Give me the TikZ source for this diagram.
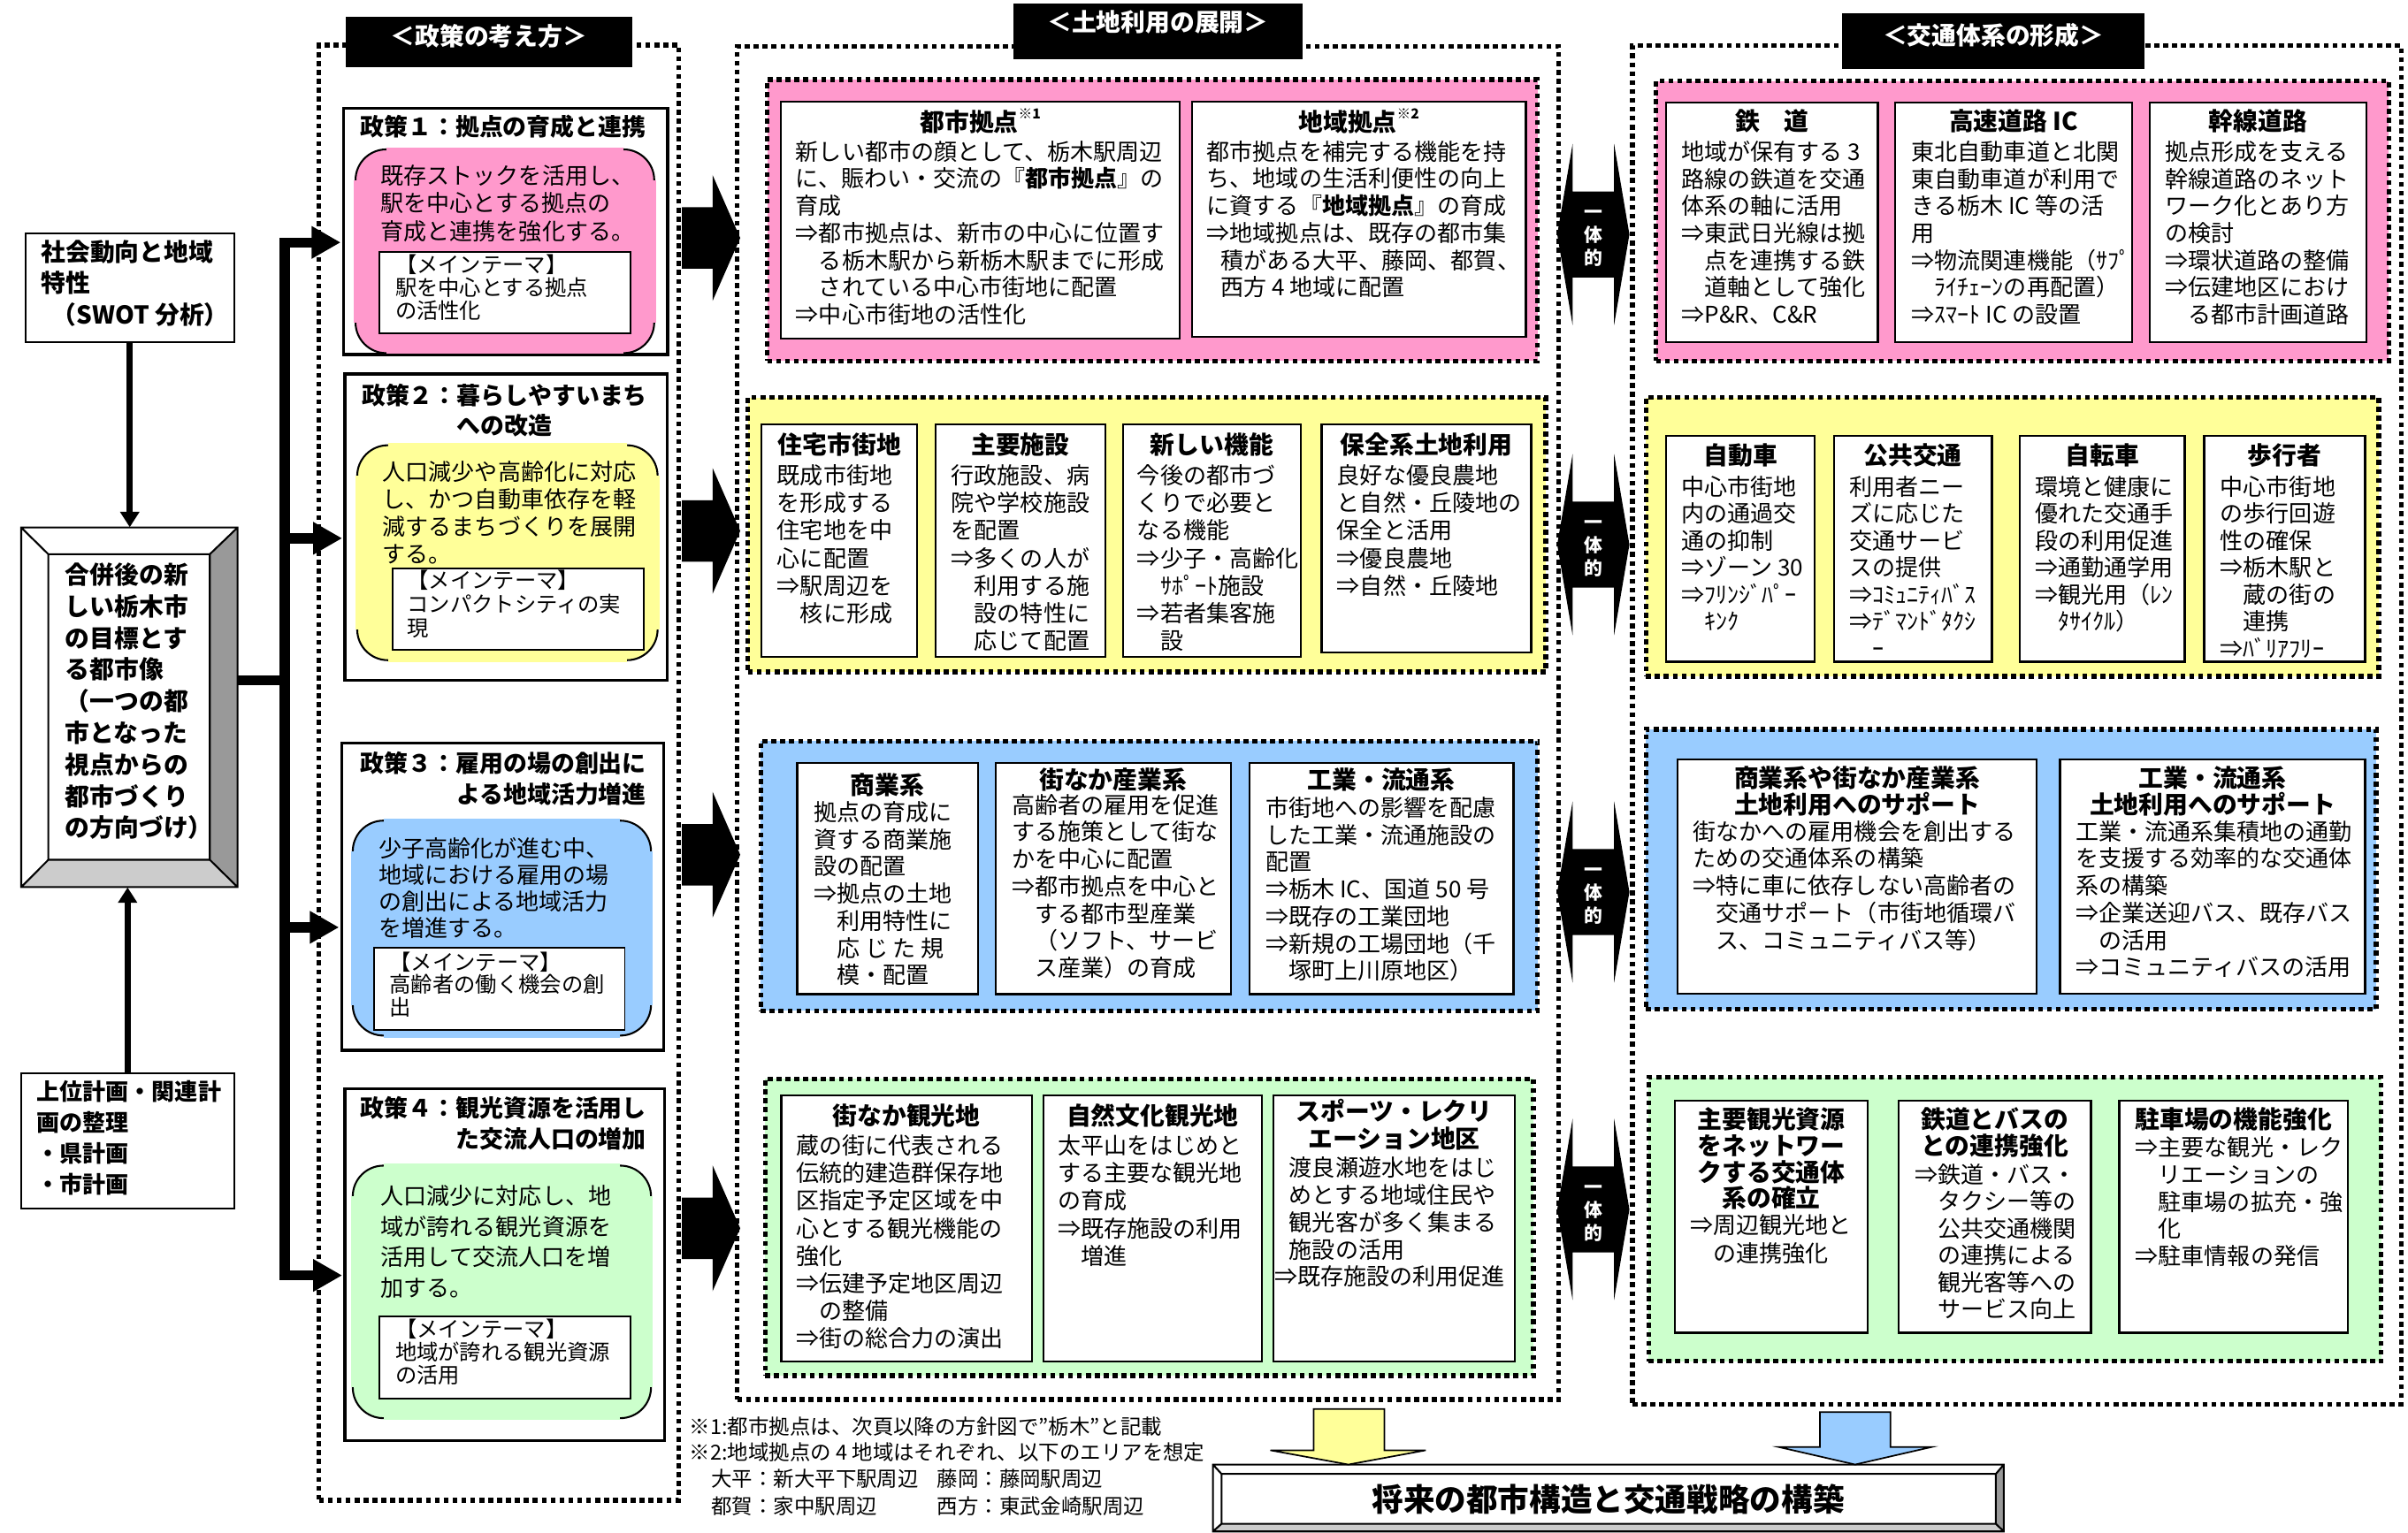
\documentclass[tikz,border=0pt]{standalone}
\usepackage{fontspec}
\setmainfont{Noto Sans CJK JP}
\usetikzlibrary{fit,arrows.meta}
\definecolor{cpink}{HTML}{FF99CC}
\definecolor{cyel}{HTML}{FFFF99}
\definecolor{cblue}{HTML}{99CCFF}
\definecolor{cgreen}{HTML}{CCFFCC}
\definecolor{cgray}{HTML}{999999}
\definecolor{clgray}{HTML}{CCCCCC}
\newcommand\sr{\rule{0pt}{.88em}}
\newcommand\fsz[2]{\fontsize{#1}{#2}\selectfont}
\tikzset{
 dotframe/.style={draw=black, line width=3pt, dash pattern=on 3.2pt off 2.6pt, inner sep=0pt},
 carea/.style={dotframe, fill=#1},
 wbox/.style={draw=black, fill=white, line width=1.3pt, inner sep=0pt},
 tbox/.style={wbox, line width=1.1pt},
 ttl/.style={anchor=north, inner sep=0pt, text=white, font=\bfseries\fsz{16}{18}},
 hd/.style={anchor=north, inner sep=0pt, align=center, font=\bfseries\fsz{16}{17.3}},
 bd/.style={anchor=north west, inner sep=0pt, align=left, font=\fsz{15}{17.7}},
 ptl/.style={anchor=north west, inner sep=0pt, align=left, font=\bfseries\fsz{15.5}{20}},
 lbold/.style={anchor=north west, inner sep=0pt, align=left, font=\bfseries\fsz{16}{20.3}},
 fnote/.style={bd, font=\fsz{13.5}{17.6}},
 thinarr/.style={line width=4pt, -{Triangle[width=12pt,length=10pt]}},
 trunk/.style={line width=6.5pt},
 branch/.style={line width=6.5pt, -{Triangle[width=20pt,length=19pt]}, shorten >=1.5pt},
}
% rounded coloured panel with only the corner arcs outlined
\newcommand\rrect[6]{%
  \node[fit={(#2,#3)(#4,#5)}, inner sep=0pt, fill=#1, draw=black, line width=1.2pt, rounded corners=20pt] (#6) {};
  \draw[#1, line width=2.6pt] (#2+20,#3) -- (#4-20,#3) (#2+20,#5) -- (#4-20,#5) (#2,#3+20) -- (#2,#5-20) (#4,#3+20) -- (#4,#5-20);
}
% bevelled box
\newcommand\bevel[9]{%
  \node[fit={(#1,#2)(#3,#4)}, inner sep=0pt, fill=white] (#9) {};
  \fill[cgray] (#3,#2) -- (#3,#4) -- (#7,#8) -- (#7,#6) -- cycle;
  \fill[clgray] (#1,#4) -- (#3,#4) -- (#7,#8) -- (#5,#8) -- cycle;
  \draw[line width=1.2pt] (#1,#2) rectangle (#3,#4) (#5,#6) rectangle (#7,#8)
     (#1,#2) -- (#5,#6) (#3,#2) -- (#7,#6) (#1,#4) -- (#5,#8) (#3,#4) -- (#7,#8);
}
\newcommand\rarr[1]{\fill (444,#1-20) -- (464,#1-20) -- (464,#1-41) -- (482,#1) -- (464,#1+41) -- (464,#1+20) -- (444,#1+20) -- cycle;}
\newcommand\dblarr[2]{%
  \fill (1014,#1) -- (1024,#1-59) -- (1024,#1-28) -- (1051,#1-28) -- (1051,#1-59) -- (1061,#1) -- (1051,#1+59) -- (1051,#1+28) -- (1024,#1+28) -- (1024,#1+59) -- cycle;
  \node[text=white, font=\bfseries\fsz{12}{15}, align=center, inner sep=0pt] (#2) at (1037.5,#1) {\sr 一\\体\\的};
}
\begin{document}
\begin{tikzpicture}[x=1pt,y=-1pt]
\fill[white] (0,0) rectangle (1568,998);
\useasboundingbox (0,0) rectangle (1568,998);

% ---------- frames ----------
\node[dotframe, fit={(207.7,29.4)(442,977.2)}] (fpol) {};
\node[dotframe, fit={(480,30.3)(1015,911.5)}] (fland) {};
\node[dotframe, fit={(1063,29.8)(1563.5,914.6)}] (ftra) {};

\node[fill=black, inner sep=0pt, fit={(224.9,11)(411.9,44)}] (tpol) {};
\node[ttl] (tpolt) at (318.4,15.5) {\sr ＜政策の考え方＞};
\node[fill=black, inner sep=0pt, fit={(660,2.3)(848,38.4)}] (tland) {};
\node[ttl] (tlandt) at (754,6.2) {\sr ＜土地利用の展開＞};
\node[fill=black, inner sep=0pt, fit={(1199.7,8.6)(1396.5,45.1)}] (ttra) {};
\node[ttl] (ttrat) at (1298,14.8) {\sr ＜交通体系の形成＞};

% ---------- left column ----------
\node[wbox, fit={(16.6,152.2)(152.4,222.7)}] (sa) {};
\node[lbold] (sat) at (26.6,156) {\sr 社会動向と地域\\特性\\\hspace*{7pt}（SWOT 分析）};
\bevel{13.8}{343.6}{154.7}{577.8}{31.5}{361}{136.6}{560}{bev}
\node[lbold, font=\bfseries\fsz{16}{20.6}] (bevt) at (42.4,366.1) {\sr 合併後の新\\しい栃木市\\の目標とす\\る都市像\\（一つの都\\市となった\\視点からの\\都市づくり\\の方向づけ）};
\node[wbox, fit={(13.8,699)(152.4,787.3)}] (sb) {};
\node[lbold, font=\bfseries\fsz{15}{20.1}] (sbt) at (23.8,703.4) {\sr 上位計画・関連計\\画の整理\\・県計画\\・市計画};
\draw[thinarr] (sa.south) -- (sa.south |- bev.north);
\draw[thinarr] (sb.north) -- (sb.north |- bev.south);

% ---------- policies ----------
\node[wbox, fit={(224,70.8)(434.5,230.6)}] (pol1) {};
\rrect{cpink}{231.5}{97.3}{426}{230}{pol1r}
\node[tbox, fit={(247,163.9)(410.5,217.3)}] (pol1m) {};
\draw[line width=1.3pt] (pol1.north west) rectangle (pol1.south east);
\node[ptl] (pol1h) at (234.4,74.8) {\sr 政策１：拠点の育成と連携};
\node[bd, font=\fsz{15}{18}] (pol1x) at (247.8,106.7) {\sr 既存ストックを活用し、\\駅を中心とする拠点の\\育成と連携を強化する。};
\node[bd, font=\fsz{14}{15}] (pol1mt) at (257.2,164.9) {\sr 【メインテーマ】\\駅を中心とする拠点\\の活性化};

\node[wbox, fit={(225,243.8)(434,442.8)}] (pol2) {};
\rrect{cyel}{232.6}{290}{428.2}{430}{pol2r}
\node[tbox, fit={(255.8,370)(419,423)}] (pol2m) {};
\draw[line width=1.3pt] (pol2.north west) rectangle (pol2.south east);
\node[ptl, anchor=north, align=center, font=\bfseries\fsz{15.5}{19.9}] (pol2h) at (328.5,249.5) {\sr 政策２：暮らしやすいまち\\への改造};
\node[bd, font=\fsz{15}{18}] (pol2x) at (249,299.4) {\sr 人口減少や高齢化に対応\\し、かつ自動車依存を軽\\減するまちづくりを展開\\する。};
\node[bd, font=\fsz{14}{15.5}] (pol2mt) at (265,370.6) {\sr 【メインテーマ】\\コンパクトシティの実\\現};

\node[wbox, fit={(222.9,484.3)(431.7,683.7)}] (pol3) {};
\rrect{cblue}{229.7}{534.5}{423.9}{674.5}{pol3r}
\node[tbox, fit={(243.5,617.5)(406.8,670.6)}] (pol3m) {};
\draw[line width=1.3pt] (pol3.north west) rectangle (pol3.south east);
\node[ptl, anchor=north east, align=right, font=\bfseries\fsz{15.5}{20.2}] (pol3h) at (421,488.9) {\sr 政策３：雇用の場の創出に\\よる地域活力増進};
\node[bd, font=\fsz{15}{17.3}] (pol3x) at (246.3,545) {\sr 少子高齢化が進む中、\\地域における雇用の場\\の創出による地域活力\\を増進する。};
\node[bd, font=\fsz{14}{14.9}] (pol3mt) at (253.5,619.2) {\sr 【メインテーマ】\\高齢者の働く機会の創\\出};

\node[wbox, fit={(225,709.3)(432.5,937.9)}] (pol4) {};
\rrect{cgreen}{229.7}{759.2}{423.9}{923.7}{pol4r}
\node[tbox, fit={(247,857.6)(410.5,911)}] (pol4m) {};
\draw[line width=1.3pt] (pol4.north west) rectangle (pol4.south east);
\node[ptl, anchor=north east, align=right, font=\bfseries\fsz{15.5}{20.3}] (pol4h) at (421,713.6) {\sr 政策４：観光資源を活用し\\た交流人口の増加};
\node[bd, font=\fsz{15}{19.9}] (pol4x) at (247.8,771.2) {\sr 人口減少に対応し、地\\域が誇れる観光資源を\\活用して交流人口を増\\加する。};
\node[bd, font=\fsz{14}{14.8}] (pol4mt) at (257.2,858.6) {\sr 【メインテーマ】\\地域が誇れる観光資源\\の活用};

% trunk and branches
\coordinate (j1) at (185.4,157.9);
\coordinate (j2) at (185.4,350.6);
\coordinate (j3) at (185.4,604);
\coordinate (j4) at (185.4,830.7);
\draw[trunk, line cap=rect] (j1) -- (j4);
\draw[trunk] (bev.east |- 0,443) -- (185.4,443);
\draw[branch] (j1) -- (j1 -| pol1.west);
\draw[branch] (j2) -- (j2 -| pol2.west);
\draw[branch] (j3) -- (j3 -| pol3.west);
\draw[branch] (j4) -- (j4 -| pol4.west);

% ---------- land use ----------
\node[carea=cpink, fit={(499.6,51.8)(1001.3,235.1)}] (lpk) {};
\node[carea=cyel, fit={(487,259)(1006.6,437.6)}] (lyl) {};
\node[carea=cblue, fit={(495.4,482.7)(1001.3,658.4)}] (lbl) {};
\node[carea=cgreen, fit={(498.3,702.7)(998.5,896)}] (lgr) {};

\node[wbox, fit={(508.6,66.2)(768.2,220.4)}] (l11) {};
\node[hd] (l11h) at (l11.north |- 0,70.5) {\sr 都市拠点\raisebox{.5em}{\fsz{9}{9}※1}};
\node[bd] (l11t) at (518,90.9) {\sr 新しい都市の顔として、栃木駅周辺\\に、賑わい・交流の『{\bfseries 都市拠点}』の\\育成\\⇒都市拠点は、新市の中心に位置す\\　る栃木駅から新栃木駅までに形成\\　されている中心市街地に配置\\⇒中心市街地の活性化};
\node[wbox, fit={(776.2,66.2)(993.6,219.2)}] (l12) {};
\node[hd] (l12h) at (l12.north |- 0,70.5) {\sr 地域拠点\raisebox{.5em}{\fsz{9}{9}※2}};
\node[bd] (l12t) at (785.7,90.9) {\sr 都市拠点を補完する機能を持\\ち、地域の生活利便性の向上\\に資する『{\bfseries 地域拠点}』の育成\\⇒地域拠点は、既存の都市集\\\hspace*{.6em}積がある大平、藤岡、都賀、\\\hspace*{.6em}西方 4 地域に配置};

\node[wbox, fit={(496,276.5)(597.3,428)}] (l21) {};
\node[hd] (l21h) at (l21.north |- 0,281.6) {\sr 住宅市街地};
\node[bd, font=\fsz{15}{18}] (l21t) at (505.9,301.8) {\sr 既成市街地\\を形成する\\住宅地を中\\心に配置\\⇒駅周辺を\\　核に形成};
\node[wbox, fit={(609.1,276.5)(719.7,428)}] (l22) {};
\node[hd] (l22h) at (l22.north |- 0,281.6) {\sr 主要施設};
\node[bd, font=\fsz{15}{18}] (l22t) at (619.3,301.8) {\sr 行政施設、病\\院や学校施設\\を配置\\⇒多くの人が\\　利用する施\\　設の特性に\\　応じて配置};
\node[wbox, fit={(731.3,276.5)(847,428)}] (l23) {};
\node[hd] (l23h) at (l23.north |- 0,281.6) {\sr 新しい機能};
\node[bd, font=\fsz{15}{18}] (l23t) at (740.3,301.8) {\sr 今後の都市づ\\くりで必要と\\なる機能\\⇒少子・高齢化\\　ｻﾎﾟｰﾄ施設\\⇒若者集客施\\　設};
\node[wbox, fit={(860.6,276.5)(997,425)}] (l24) {};
\node[hd] (l24h) at (l24.north |- 0,281.6) {\sr 保全系土地利用};
\node[bd, font=\fsz{15}{18}] (l24t) at (870.4,301.8) {\sr 良好な優良農地\\と自然・丘陵地の\\保全と活用\\⇒優良農地\\⇒自然・丘陵地};

\node[wbox, fit={(519.1,497)(636.7,647.5)}] (l31) {};
\node[hd] (l31h) at (l31.north |- 0,503) {\sr 商業系};
\node[bd] (l31t) at (529.6,521.2) {\sr 拠点の育成に\\資する商業施\\設の配置\\⇒拠点の土地\\　利用特性に\\　応 じ た 規\\　模・配置};
\node[wbox, fit={(648.2,497)(801.4,647.5)}] (l32) {};
\node[hd] (l32h) at (l32.north |- 0,499.8) {\sr 街なか産業系};
\node[bd] (l32t) at (658.6,516.4) {\sr 高齢者の雇用を促進\\する施策として街な\\かを中心に配置\\⇒都市拠点を中心と\\　する都市型産業\\　（ソフト、サービ\\　ス産業）の育成};
\node[wbox, fit={(813.6,497)(985.5,647.5)}] (l33) {};
\node[hd] (l33h) at (l33.north |- 0,499.8) {\sr 工業・流通系};
\node[bd] (l33t) at (824,518.3) {\sr 市街地への影響を配慮\\した工業・流通施設の\\配置\\⇒栃木 IC、国道 50 号\\⇒既存の工業団地\\⇒新規の工場団地（千\\　塚町上川原地区）};

\node[wbox, fit={(508.8,713.6)(671.8,886.7)}] (l41) {};
\node[hd] (l41h) at (l41.north |- 0,718.3) {\sr 街なか観光地};
\node[bd, font=\fsz{15}{17.9}] (l41t) at (518.2,738.5) {\sr 蔵の街に代表される\\伝統的建造群保存地\\区指定予定区域を中\\心とする観光機能の\\強化\\⇒伝建予定地区周辺\\　の整備\\⇒街の総合力の演出};
\node[wbox, fit={(679.3,713.6)(821.7,886.7)}] (l42) {};
\node[hd] (l42h) at (l42.north |- 0,718.3) {\sr 自然文化観光地};
\node[bd, font=\fsz{15}{17.9}] (l42t) at (688.6,738.5) {\sr 太平山をはじめと\\する主要な観光地\\の育成\\⇒既存施設の利用\\　増進};
\node[wbox, fit={(829.2,713.6)(986.5,886.7)}] (l43) {};
\node[hd, font=\bfseries\fsz{16}{17.5}] (l43h) at (l43.north |- 0,715.8) {\sr スポーツ・レクリ\\エーション地区};
\node[bd] (l43t) at (839.3,753) {\sr 渡良瀬遊水地をはじ\\めとする地域住民や\\観光客が多く集まる\\施設の活用\\\hspace*{-9.5pt}⇒既存施設の利用促進};

% ---------- transport ----------
\node[carea=cpink, fit={(1078.4,52.8)(1555.5,235.1)}] (tpk) {};
\node[carea=cyel, fit={(1071.8,259)(1549,440.5)}] (tyl) {};
\node[carea=cblue, fit={(1071.8,475)(1547.3,657.4)}] (tbl) {};
\node[carea=cgreen, fit={(1073.5,701.7)(1550.6,886.7)}] (tgr) {};

\node[wbox, fit={(1085,66.6)(1222.7,222.7)}] (t11) {};
\node[hd] (t11h) at (t11.north |- 0,70.5) {\sr 鉄　道};
\node[bd, font=\fsz{15}{17.6}] (t11t) at (1094.8,91.3) {\sr 地域が保有する 3\\路線の鉄道を交通\\体系の軸に活用\\⇒東武日光線は拠\\　点を連携する鉄\\　道軸として強化\\⇒P\&R、C\&R};
\node[wbox, fit={(1234.1,66.6)(1388.3,222.7)}] (t12) {};
\node[hd] (t12h) at (t12.north |- 0,70.5) {\sr 高速道路 IC};
\node[bd, font=\fsz{15}{17.6}] (t12t) at (1244.6,91.3) {\sr 東北自動車道と北関\\東自動車道が利用で\\きる栃木 IC 等の活\\用\\⇒物流関連機能（ｻﾌﾟ\\　ﾗｲﾁｪｰﾝの再配置）\\⇒ｽﾏｰﾄ IC の設置};
\node[wbox, fit={(1399.7,66.6)(1540.8,222.7)}] (t13) {};
\node[hd] (t13h) at (t13.north |- 0,70.5) {\sr 幹線道路};
\node[bd, font=\fsz{15}{17.6}] (t13t) at (1409.6,91.3) {\sr 拠点形成を支える\\幹線道路のネット\\ワーク化とあり方\\の検討\\⇒環状道路の整備\\⇒伝建地区におけ\\　る都市計画道路};

\node[wbox, fit={(1085,284)(1181.7,431)}] (t21) {};
\node[hd] (t21h) at (t21.north |- 0,288.4) {\sr 自動車};
\node[bd, font=\fsz{15}{17.6}] (t21t) at (1094.8,309.1) {\sr 中心市街地\\内の通過交\\通の抑制\\⇒ゾーン 30\\⇒ﾌﾘﾝｼﾞﾊﾟｰ\\　ｷﾝｸ};
\node[wbox, fit={(1194.1,284)(1297.1,431)}] (t22) {};
\node[hd] (t22h) at (t22.north |- 0,288.4) {\sr 公共交通};
\node[bd, font=\fsz{15}{17.6}] (t22t) at (1204,309.1) {\sr 利用者ニー\\ズに応じた\\交通サービ\\スの提供\\⇒ｺﾐｭﾆﾃｨﾊﾞｽ\\⇒ﾃﾞﾏﾝﾄﾞﾀｸｼ\\　ｰ};
\node[wbox, fit={(1315.2,284)(1422.6,431)}] (t23) {};
\node[hd] (t23h) at (t23.north |- 0,288.4) {\sr 自転車};
\node[bd, font=\fsz{15}{17.6}] (t23t) at (1325,309.1) {\sr 環境と健康に\\優れた交通手\\段の利用促進\\⇒通勤通学用\\⇒観光用（ﾚﾝ\\　ﾀｻｲｸﾙ）};
\node[wbox, fit={(1435.2,284)(1540.1,431)}] (t24) {};
\node[hd] (t24h) at (t24.north |- 0,288.4) {\sr 歩行者};
\node[bd, font=\fsz{15}{17.6}] (t24t) at (1445.6,309.1) {\sr 中心市街地\\の歩行回遊\\性の確保\\⇒栃木駅と\\　蔵の街の\\　連携\\⇒ﾊﾞﾘｱﾌﾘｰ};

\node[wbox, fit={(1092.5,494.8)(1326,647.3)}] (t31) {};
\node[hd, font=\bfseries\fsz{16}{17}] (t31h) at (t31.north |- 0,498.5) {\sr 商業系や街なか産業系\\土地利用へのサポート};
\node[bd] (t31t) at (1102.3,533.7) {\sr 街なかへの雇用機会を創出する\\ための交通体系の構築\\⇒特に車に依存しない高齢者の\\　交通サポート（市街地循環バ\\　ス、コミュニティバス等）};
\node[wbox, fit={(1341.4,494.8)(1540.1,647.3)}] (t32) {};
\node[hd, font=\bfseries\fsz{16}{17}] (t32h) at (t32.north |- 0,498.5) {\sr 工業・流通系\\土地利用へのサポート};
\node[bd] (t32t) at (1351.5,533.7) {\sr 工業・流通系集積地の通勤\\を支援する効率的な交通体\\系の構築\\⇒企業送迎バス、既存バス\\　の活用\\⇒コミュニティバスの活用};

\node[wbox, fit={(1090.8,717)(1216.1,868)}] (t41) {};
\node[hd, font=\bfseries\fsz{16}{17.1}] (t41h) at (t41.north |- 0,720.9) {\sr 主要観光資源\\をネットワー\\クする交通体\\系の確立};
\node[bd, font=\fsz{15}{18.6}] (t41t) at (1100.4,790.2) {\sr ⇒周辺観光地と\\　の連携強化};
\node[wbox, fit={(1236.2,717)(1361.5,868)}] (t42) {};
\node[hd, font=\bfseries\fsz{16}{17.4}] (t42h) at (t42.north |- 0,720.9) {\sr 鉄道とバスの\\との連携強化};
\node[bd, font=\fsz{15}{17.6}] (t42t) at (1246.5,757.1) {\sr ⇒鉄道・バス・\\　タクシー等の\\　公共交通機関\\　の連携による\\　観光客等への\\　サービス向上};
\node[wbox, fit={(1379.9,717)(1528.8,868)}] (t43) {};
\node[hd] (t43h) at (t43.north |- 0,720.9) {\sr 駐車場の機能強化};
\node[bd, font=\fsz{15}{17.7}] (t43t) at (1390.3,739.6) {\sr ⇒主要な観光・レク\\　リエーションの\\　駐車場の拡充・強\\　化\\⇒駐車情報の発信};

% ---------- arrows between columns ----------
\rarr{155}
\rarr{345.8}
\rarr{556.7}
\rarr{800}
\dblarr{152.7}{u1}
\dblarr{354.7}{u2}
\dblarr{581}{u3}
\dblarr{787.7}{u4}

% ---------- footnotes ----------
\node[fnote, font=\fsz{13.5}{16.8}] (fn1) at (448.9,922.1) {\sr ※1:都市拠点は、次頁以降の方針図で”栃木”と記載\\※2:地域拠点の 4 地域はそれぞれ、以下のエリアを想定};
\node[fnote] (fn2) at (463,956.3) {\sr 大平：新大平下駅周辺\\都賀：家中駅周辺};
\node[fnote] (fn3) at (610,956.3) {\sr 藤岡：藤岡駅周辺\\西方：東武金崎駅周辺};

% ---------- bottom ----------
\bevel{789.8}{953.9}{1304.8}{997.5}{795.4}{960}{1299.6}{992.5}{fin}
\node[anchor=north, inner sep=0pt, font=\bfseries\fsz{20.5}{22}] (fint) at (1047.2,966.1) {\sr 将来の都市構造と交通戦略の構築};
\filldraw[fill=cyel, draw=black, line width=1pt] (855.4,917.7) -- (901.5,917.7) -- (901.5,944.6) -- (928.4,944.6) -- (878,953.9) -- (827.2,944.6) -- (855.4,944.6) -- cycle;
\filldraw[fill=cblue, draw=black, line width=1pt] (1185,919.8) -- (1231,919.8) -- (1231,942.5) -- (1257.7,942.5) -- (1208,953.9) -- (1158.3,942.5) -- (1185,942.5) -- cycle;
\end{tikzpicture}
\end{document}
